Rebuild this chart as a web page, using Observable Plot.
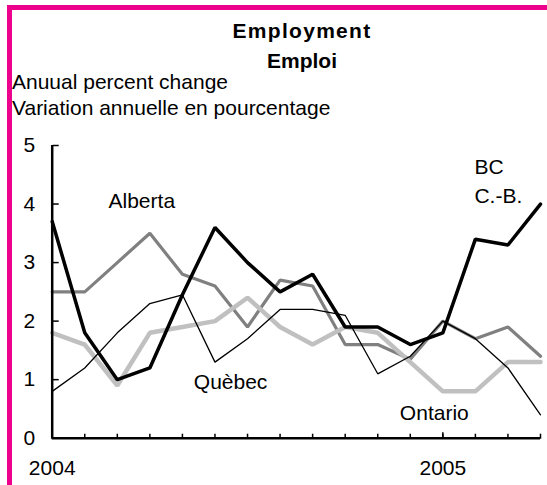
<!DOCTYPE html>
<html>
<head>
<meta charset="utf-8">
<script src="https://cdn.jsdelivr.net/npm/d3@7"></script>
<script src="https://cdn.jsdelivr.net/npm/@observablehq/plot@0.6"></script>
<style>
  html, body { margin: 0; padding: 0; background: #fff; }
  #wrap { position: relative; width: 547px; height: 485px; overflow: hidden; font-family: "Liberation Sans", Arial, sans-serif; color: #000; }
  .bar { position: absolute; background: #ec008c; }
  .t { position: absolute; font-size: 21px; line-height: 21px; white-space: nowrap; }
  .title { font-weight: bold; left: 0; width: 604px; text-align: center; }
  #chart { position: absolute; left: 0; top: 130px; }
  #chart svg { background: transparent; }
</style>
</head>
<body>
<div id="wrap">
  <div class="bar" style="left:7px;top:5px;width:540px;height:5px"></div>
  <div class="bar" style="left:7px;top:5px;width:5px;height:480px"></div>
  <div class="t title" style="top:20px;letter-spacing:1.3px">Employment</div>
  <div class="t title" style="top:50px">Emploi</div>
  <div class="t" style="left:12px;top:71px">Anuual percent change</div>
  <div class="t" style="left:12px;top:97px">Variation annuelle en pourcentage</div>
  <div id="chart"></div>
</div>
<script>
// Monthly observations, Jan 2004 – Apr 2005
const months = ["2004-01","2004-02","2004-03","2004-04","2004-05","2004-06","2004-07","2004-08",
                "2004-09","2004-10","2004-11","2004-12","2005-01","2005-02","2005-03","2005-04"];
const bc      = [3.7, 1.8, 1.0, 1.2, 2.45, 3.6, 3.0, 2.5, 2.8, 1.9, 1.9, 1.6, 1.8, 3.4, 3.3, 4.0];
const alberta = [2.5, 2.5, 3.0, 3.5, 2.8, 2.6, 1.9, 2.7, 2.6, 1.6, 1.6, 1.35, 2.0, 1.7, 1.9, 1.4];
const ontario = [1.8, 1.6, 0.9, 1.8, 1.9, 2.0, 2.4, 1.9, 1.6, 1.9, 1.8, 1.3, 0.8, 0.8, 1.3, 1.3];
const quebec  = [0.8, 1.2, 1.8, 2.3, 2.45, 1.3, 1.7, 2.2, 2.2, 2.1, 1.1, 1.4, 2.0, 1.7, 1.2, 0.4];
const yTicks = [0, 1, 2, 3, 4, 5];

// series labels (annotation anchors in data space)
const labelText = ["Alberta", "Quèbec", "Ontario", "BC", "C.-B."];
const labelX    = [1.73, 4.35, 10.68, 12.97, 12.97];
const labelY    = [4.04, 0.95, 0.43, 4.62, 4.13];

const idx = months.map((_, i) => i);
const toRows = (vals) => vals.map((v, i) => ({i, v}));
const labels = labelText.map((t, k) => ({t, x: labelX[k], y: labelY[k]}));
const yearLabel = i => months[i].endsWith("-01") ? months[i].slice(0, 4) : "";
const yearIdx = idx.filter(i => yearLabel(i));

const font = "Liberation Sans, Arial, sans-serif";

const chart = Plot.plot({
  width: 547,
  height: 355,
  marginTop: 15,
  marginBottom: 47.3,
  marginLeft: 51.7,
  marginRight: 7,
  style: {fontFamily: font, fontSize: "21px", background: "transparent", color: "#000"},
  x: {domain: [0, months.length - 1], axis: null},
  y: {domain: [0, 5], axis: null},
  marks: [
    Plot.lineY(toRows(alberta), {x: "i", y: "v", stroke: "#808080", strokeWidth: 3.2, strokeLinejoin: "miter"}),
    Plot.lineY(toRows(ontario), {x: "i", y: "v", stroke: "#c0c0c0", strokeWidth: 4.5, strokeLinejoin: "miter"}),
    Plot.lineY(toRows(bc), {x: "i", y: "v", stroke: "#000", strokeWidth: 3.5, strokeLinejoin: "miter"}),
    Plot.lineY(toRows(quebec), {x: "i", y: "v", stroke: "#000", strokeWidth: 1.3, strokeLinejoin: "miter"}),
    Plot.ruleX([0], {stroke: "#000", strokeWidth: 2.5}),
    Plot.ruleY([0], {stroke: "#000", strokeWidth: 2.5}),
    // inward ticks: anchored on the opposite side, drawn at the frame edge
    Plot.axisY({ticks: yTicks, anchor: "right", frameAnchor: "left", tickSize: 6, tickFormat: () => "", label: null, strokeWidth: 1.5}),
    Plot.axisY({ticks: yTicks, anchor: "left", tickSize: 0, tickPadding: 17, tickFormat: d => String(d), label: null, fontSize: 21}),
    Plot.axisX({ticks: idx, anchor: "top", frameAnchor: "bottom", tickSize: 5, tickFormat: () => "", label: null, strokeWidth: 1.5}),
    Plot.axisX({ticks: yearIdx, anchor: "top", frameAnchor: "bottom", tickSize: 6.5, tickFormat: () => "", label: null, strokeWidth: 1.5}),
    Plot.axisX({ticks: yearIdx, anchor: "bottom", tickSize: 0, tickPadding: 22, tickFormat: yearLabel, label: null, fontSize: 21}),
    Plot.text(labels, {x: "x", y: "y", text: "t", textAnchor: "start", fontSize: 21, fill: "#000"})
  ]
});
document.getElementById("chart").appendChild(chart);
</script>
</body>
</html>
